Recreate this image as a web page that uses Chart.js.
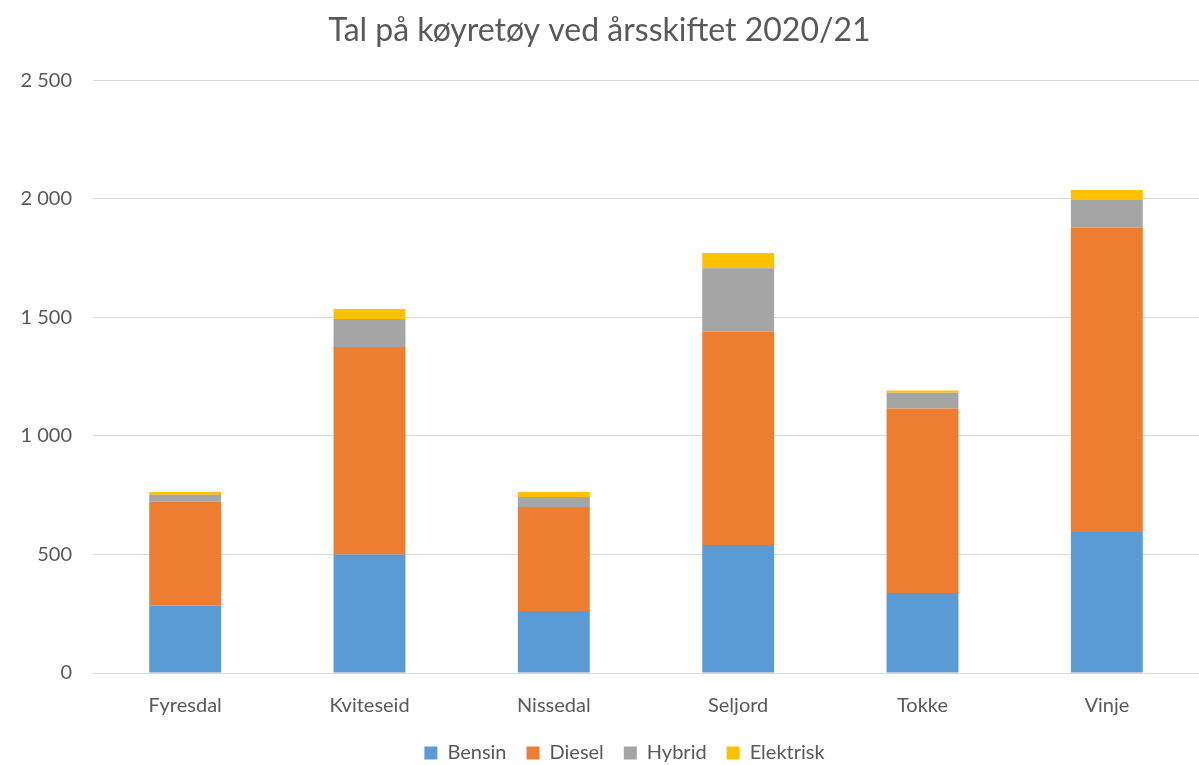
<!DOCTYPE html>
<html>
<head>
<meta charset="utf-8">
<script src="https://cdn.jsdelivr.net/npm/chart.js@4"></script>
<style>
  html, body { margin: 0; padding: 0; background: #ffffff; }
  #wrap { width: 1199px; height: 765px; }
</style>
</head>
<body>
<div id="wrap"><canvas id="vehicleChart"></canvas></div>
<script>
const municipalities = ["Fyresdal", "Kviteseid", "Nissedal", "Seljord", "Tokke", "Vinje"];

const bensinData = [285, 500, 262, 540, 338, 595];
const dieselData = [437, 875, 438, 900, 778, 1283];
const hybridData = [30, 118, 43, 267, 66, 117];
const elektriskData = [12, 43, 21, 65, 10, 43];

const yTicksMax = 2500;
const yTicksStep = 500;

const textColor = "#595959";
const gridColor = "#d9d9d9";
const fontFamily = "Lato, 'Open Sans', sans-serif";

// Norwegian style thousands: "2 500"
const formatTick = (value) => {
  if (value < 1000) return String(value);
  return `${Math.floor(value / 1000)} ${String(value % 1000).padStart(3, "0")}`;
};

const makeDataset = (label, data, color) => ({
  label,
  data,
  backgroundColor: color,
  borderWidth: 0,
  barPercentage: 0.39,
  categoryPercentage: 1,
});

// keep the legend low: wide gaps between items but little room below it,
// and nudge it right so it sits under the plot like the original
const legendFit = {
  id: "legendFit",
  beforeInit(chart) {
    const originalFit = chart.legend.fit;
    chart.legend.fit = function fit() {
      originalFit.bind(chart.legend)();
      this.height = 42;
    };
  },
  afterLayout(chart) {
    chart.legend.left += 25;
    chart.legend.right += 25;
  },
};

const ctx = document.getElementById("vehicleChart");

new Chart(ctx, {
  type: "bar",
  data: {
    labels: municipalities,
    datasets: [
      makeDataset("Bensin", bensinData, "#5b9bd5"),
      makeDataset("Diesel", dieselData, "#ed7d31"),
      makeDataset("Hybrid", hybridData, "#a5a5a5"),
      makeDataset("Elektrisk", elektriskData, "#ffc000"),
    ],
  },
  plugins: [legendFit],
  options: {
    responsive: true,
    maintainAspectRatio: false,
    animation: false,
    layout: {
      padding: 0,
    },
    plugins: {
      title: {
        display: true,
        text: "Tal på køyretøy ved årsskiftet 2020/21",
        color: textColor,
        font: { family: fontFamily, size: 32, weight: "normal" },
        padding: { top: 11, bottom: 31 },
      },
      legend: {
        position: "bottom",
        labels: {
          color: textColor,
          font: { family: fontFamily, size: 20 },
          boxWidth: 13,
          boxHeight: 13,
          padding: 20,
        },
      },
      tooltip: { enabled: false },
    },
    scales: {
      x: {
        stacked: true,
        grid: { display: false, drawTicks: false },
        border: { display: true, color: gridColor, width: 1 },
        ticks: {
          color: textColor,
          font: { family: fontFamily, size: 20 },
          padding: 21,
        },
        afterFit: (scale) => {
          scale.height = 50;
        },
      },
      y: {
        stacked: true,
        min: 0,
        max: yTicksMax,
        grid: { color: gridColor, drawTicks: false },
        border: { display: false },
        ticks: {
          stepSize: yTicksStep,
          color: textColor,
          font: { family: fontFamily, size: 20 },
          padding: 21,
          callback: (value) => formatTick(value),
        },
        afterFit: (scale) => {
          scale.width = 93;
        },
      },
    },
  },
});
</script>
</body>
</html>
